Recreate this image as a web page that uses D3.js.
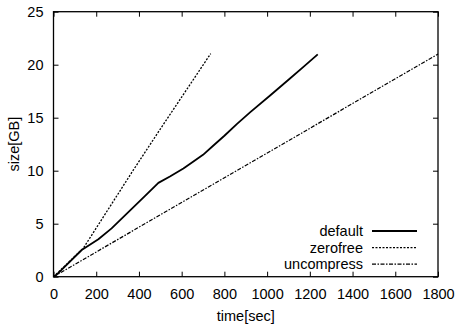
<!DOCTYPE html>
<html>
<head>
<meta charset="utf-8">
<script src="https://cdn.jsdelivr.net/npm/d3@7"></script>
<style>
  body { margin: 0; background: #fff; }
  text { font-family: "Liberation Sans", Arial, sans-serif; fill: #000; }
</style>
</head>
<body>
<svg id="chart"></svg>
<script>
// values
const defaultTime = [0, 15, 132, 210, 272, 366, 430, 491, 545, 608, 650, 700, 750, 800, 858, 920, 1014, 1107, 1170, 1237];
const defaultSize = [0, 0.2, 2.52, 3.53, 4.56, 6.4, 7.65, 8.85, 9.45, 10.2, 10.8, 11.5, 12.4, 13.3, 14.4, 15.5, 17.1, 18.7, 19.8, 20.98];
const zerofreeTime = [0, 140, 374, 499, 736];
const zerofreeSize = [0, 2.7, 10.07, 13.9, 21.05];
const uncompressTime = [0, 1800];
const uncompressSize = [0, 21];
const xTicks = [0, 200, 400, 600, 800, 1000, 1200, 1400, 1600, 1800];
const yTicks = [0, 5, 10, 15, 20, 25];
const seriesNames = ["default", "zerofree", "uncompress"];

const width = 460, height = 333;
const margin = { top: 11.7, right: 22, bottom: 56.3, left: 53.5 };

const svg = d3.select("#chart")
  .attr("width", width)
  .attr("height", height);

const x = d3.scaleLinear().domain([0, 1800]).range([margin.left, width - margin.right]);
const y = d3.scaleLinear().domain([0, 25]).range([height - margin.bottom, margin.top]);

// ticks on all four sides, pointing inward
const tl = 5;
svg.append("g")
  .attr("transform", `translate(0,${y(0)})`)
  .call(d3.axisBottom(x).tickValues(xTicks).tickSize(-tl).tickPadding(12).tickFormat(d3.format("d")))
  .call(g => g.select(".domain").remove())
  .call(g => g.selectAll("text").attr("font-size", 14.5));
svg.append("g")
  .attr("transform", `translate(0,${y(25)})`)
  .call(d3.axisTop(x).tickValues(xTicks).tickSize(-tl).tickFormat(""))
  .call(g => g.select(".domain").remove());
svg.append("g")
  .attr("transform", `translate(${x(0)},0)`)
  .call(d3.axisLeft(y).tickValues(yTicks).tickSize(-tl).tickPadding(10))
  .call(g => g.select(".domain").remove())
  .call(g => g.selectAll("text").attr("font-size", 14.5));
svg.append("g")
  .attr("transform", `translate(${x(1800)},0)`)
  .call(d3.axisRight(y).tickValues(yTicks).tickSize(-tl).tickFormat(""))
  .call(g => g.select(".domain").remove());

svg.selectAll(".tick line").attr("stroke", "#000").attr("stroke-width", 1);

svg.append("rect")
  .attr("x", x(0)).attr("y", y(25))
  .attr("width", x(1800) - x(0)).attr("height", y(0) - y(25))
  .attr("fill", "none").attr("stroke", "#000").attr("stroke-width", 1.3);

// axis titles
svg.append("text")
  .attr("x", (x(0) + x(1800)) / 2).attr("y", 321)
  .attr("text-anchor", "middle").attr("font-size", 14.5)
  .text("time[sec]");
svg.append("text")
  .attr("transform", `translate(19,${(y(0) + y(25)) / 2}) rotate(-90)`)
  .attr("text-anchor", "middle").attr("font-size", 14.5)
  .text("size[GB]");

const styles = [
  { w: 1.8, dash: null },
  { w: 1.3, dash: "2,1.5" },
  { w: 1.2, dash: "4,1.5,1.5,1.5" }
];
const data = [
  d3.zip(defaultTime, defaultSize),
  d3.zip(zerofreeTime, zerofreeSize),
  d3.zip(uncompressTime, uncompressSize)
];

const line = d3.line().x(d => x(d[0])).y(d => y(d[1]));

data.forEach((pts, i) => {
  svg.append("path")
    .datum(pts)
    .attr("d", line)
    .attr("fill", "none")
    .attr("stroke", "#000")
    .attr("stroke-width", styles[i].w)
    .attr("stroke-dasharray", styles[i].dash)
    .attr("stroke-linejoin", "round");
});

// legend
const legend = svg.append("g");
seriesNames.forEach((name, i) => {
  const ly = 231 + i * 16.6;
  legend.append("text")
    .attr("x", 363).attr("y", ly + 5)
    .attr("text-anchor", "end").attr("font-size", 14.5)
    .text(name);
  legend.append("line")
    .attr("x1", 372).attr("x2", 417)
    .attr("y1", ly).attr("y2", ly)
    .attr("stroke", "#000")
    .attr("stroke-width", styles[i].w)
    .attr("stroke-dasharray", styles[i].dash);
});
</script>
</body>
</html>
